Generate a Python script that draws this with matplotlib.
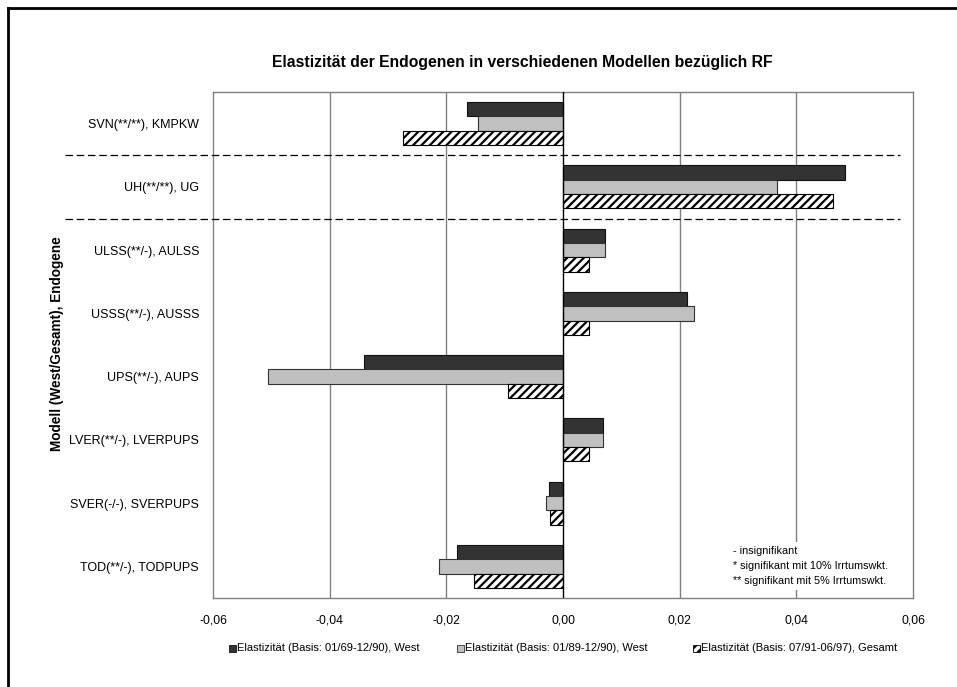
import matplotlib
matplotlib.use("Agg")
import matplotlib.pyplot as plt
import matplotlib.transforms as mtransforms
from matplotlib.lines import Line2D
from matplotlib.patches import Rectangle
import numpy as np

plt.rcParams['font.family'] = ['Liberation Sans', 'DejaVu Sans']
plt.rcParams['hatch.linewidth'] = 1.6

categories = ["SVN(**/**), KMPKW", "UH(**/**), UG", "ULSS(**/-), AULSS", "USSS(**/-), AUSSS",
              "UPS(**/-), AUPS", "LVER(**/-), LVERPUPS", "SVER(-/-), SVERPUPS", "TOD(**/-), TODPUPS"]
west_6990 = [-0.0165, 0.0484, 0.0072, 0.0213, -0.0341, 0.0069, -0.0024, -0.0181]
west_8990 = [-0.0145, 0.0366, 0.0072, 0.0225, -0.0506, 0.0069, -0.0030, -0.0213]
gesamt_9197 = [-0.0275, 0.0462, 0.0045, 0.0045, -0.0095, 0.0045, -0.0022, -0.0153]
series_labels = ["Elastizität (Basis: 01/69-12/90), West",
                 "Elastizität (Basis: 01/89-12/90), West",
                 "Elastizität (Basis: 07/91-06/97), Gesamt"]
xticks = [-0.06, -0.04, -0.02, 0.0, 0.02, 0.04, 0.06]
xticklabels = ["-0,06", "-0,04", "-0,02", "0,00", "0,02", "0,04", "0,06"]
note_lines = ["- insignifikant", "* signifikant mit 10% Irrtumswkt.", "** signifikant mit 5% Irrtumswkt."]

W, H = 957, 687
fig = plt.figure(figsize=(W/100, H/100), dpi=100)
ax = fig.add_axes([213/W, (H-598)/H, 700/W, 506/H])

y = np.arange(len(categories))
h = 0.227
styles = [dict(color='#333333', edgecolor='#111111'),
          dict(color='#c0c0c0', edgecolor='#333333'),
          dict(color='white', edgecolor='black', hatch='////')]
for off, vals, st in zip([-h, 0, h], [west_6990, west_8990, gesamt_9197], styles):
    ax.barh(y + off, vals, height=h, linewidth=0.8, zorder=3, **st)

ax.set_xlim(-0.06, 0.06)
ax.set_ylim(len(categories) - 0.5, -0.5)
ax.set_xticks(xticks)
ax.set_xticklabels(xticklabels, fontsize=8.7)
ax.set_yticks(y)
ax.set_yticklabels(categories, fontsize=9)
ax.tick_params(length=0, pad=10)
ax.tick_params(axis='x', pad=12)
for x in xticks[1:-1]:
    ax.axvline(x, color='#808080' if x != 0 else 'black', linewidth=1.0, zorder=1 if x != 0 else 4)
for s in ax.spines.values():
    s.set_color('#808080')
    s.set_linewidth(1.0)

# dashed separators extending left of the axes
trans = mtransforms.blended_transform_factory(fig.transFigure, ax.transData)
for yy in [0.5, 1.5]:
    ax.add_line(Line2D([65/W, 900/W], [yy, yy], transform=trans, color='black',
                       linestyle=(0, (6, 3)), linewidth=0.9, clip_on=False, zorder=5))

ax.set_ylabel("Modell (West/Gesamt), Endogene", fontsize=9.8, fontweight='bold')
ax.yaxis.set_label_coords(64/W, 0.5, transform=fig.transFigure)

fig.text(0.5*(272+773)/W, 1 - 62/H, "Elastizität der Endogenen in verschiedenen Modellen bezüglich RF",
         ha='center', va='center', fontsize=11.3, fontweight='bold')

ax.text(733/W, 1 - 546/H, "\n".join(note_lines), transform=fig.transFigure, fontsize=7.8,
        ha='left', va='top', linespacing=1.6,
        bbox=dict(facecolor='white', edgecolor='none', pad=3), zorder=6)

# legend drawn manually at measured positions
leg_y = 1 - 648/H
mw, mh = 7/W, 7/H
for xm, lab, st in zip([229, 457, 693], series_labels, styles):
    fc = st.get('color')
    fig.add_artist(Rectangle((xm/W, leg_y - mh/2), mw, mh, transform=fig.transFigure,
                             facecolor=fc, edgecolor=st['edgecolor'], hatch=st.get('hatch'),
                             linewidth=0.6))
    fig.text((xm + 8)/W, leg_y, lab, fontsize=8, ha='left', va='center')

# outer frame (left & top visible)
fig.add_artist(Line2D([8/W, 8/W], [0, 1 - 8/H], transform=fig.transFigure, color='black', linewidth=2))
fig.add_artist(Line2D([8/W, 1], [1 - 8/H, 1 - 8/H], transform=fig.transFigure, color='black', linewidth=2))

fig.savefig("out.png", dpi=100, facecolor='white')
